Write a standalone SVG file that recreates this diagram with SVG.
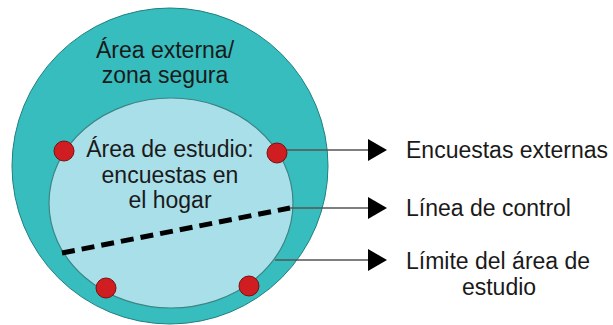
<svg xmlns="http://www.w3.org/2000/svg" width="613" height="325" viewBox="0 0 613 325">
<style>
text{font-family:"Liberation Sans",Arial,sans-serif;font-size:23px;fill:#1a1a1a}
.c{text-anchor:middle}
.dot{fill:#d01d22;stroke:#7a1010;stroke-width:1}
.conn{stroke:#555;stroke-width:1.3;fill:none}
.head{fill:#000}
</style>
<rect width="613" height="325" fill="#fff"/>
<g id="outer">
<circle cx="170" cy="166" r="158" fill="#37bdbe" stroke="#1f7f80" stroke-width="1"/>
<text class="c" x="165" y="58">Área externa/</text>
<text class="c" x="165" y="83">zona segura</text>
</g>
<g id="inner">
<ellipse cx="171" cy="203" rx="122" ry="105" fill="#a9dfe9" stroke="#3d8585" stroke-width="1.2"/>
<text class="c" x="170" y="157">Área de estudio:</text>
<text class="c" x="170" y="183">encuestas en</text>
<text class="c" x="170" y="208">el hogar</text>
</g>
<g id="control-line">
<line x1="62" y1="253" x2="290" y2="208" stroke="#000" stroke-width="5" stroke-dasharray="13 7"/>
</g>
<g id="connectors">
<line class="conn" x1="277" y1="150" x2="370" y2="150"/>
<line class="conn" x1="290" y1="208" x2="370" y2="208"/>
<line class="conn" x1="275" y1="260" x2="370" y2="260"/>
<polygon class="head" points="368,139 387,150 368,161"/>
<polygon class="head" points="368,197 387,208 368,219"/>
<polygon class="head" points="368,249 387,260 368,271"/>
</g>
<g id="dots">
<circle class="dot" cx="64" cy="151" r="10"/>
<circle class="dot" cx="277" cy="153" r="10"/>
<circle class="dot" cx="106" cy="288" r="10"/>
<circle class="dot" cx="249" cy="286" r="10"/>
</g>
<g id="labels">
<text x="406" y="158">Encuestas externas</text>
<text x="406" y="216">Línea de control</text>
<text x="406" y="269">Límite del área de</text>
<text class="c" x="499" y="295">estudio</text>
</g>
</svg>
